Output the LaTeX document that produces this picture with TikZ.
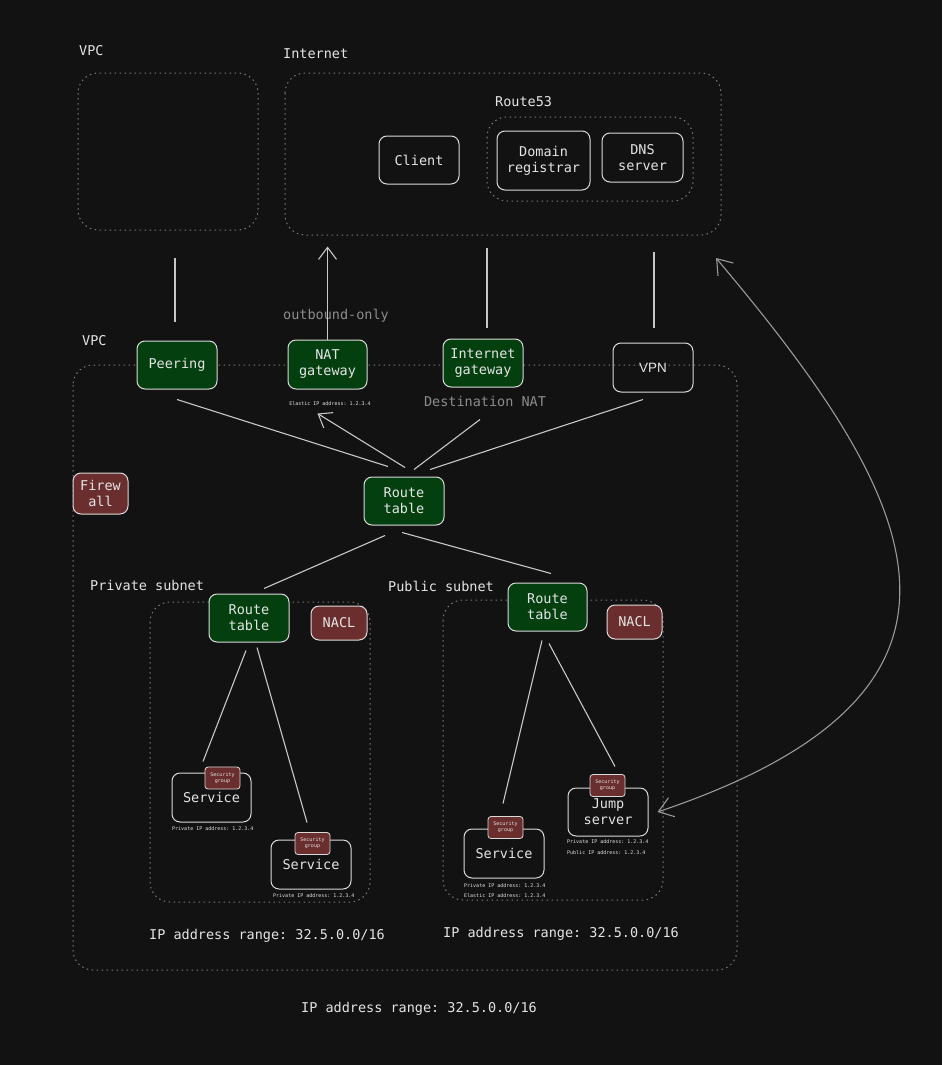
\documentclass[tikz,border=0pt]{standalone}
\usepackage{fontspec}
\setmonofont{DejaVu Sans Mono}
\setsansfont{Liberation Sans}
\usetikzlibrary{arrows.meta}
\definecolor{bg}{HTML}{121212}
\definecolor{strokec}{HTML}{DADADA}
\definecolor{txt}{HTML}{E4E4E4}
\definecolor{graytxt}{HTML}{8C8C8C}
\definecolor{zonec}{HTML}{7A7A7A}
\definecolor{gfill}{HTML}{04400F}
\definecolor{rfill}{HTML}{6B2E2E}
\definecolor{linec}{HTML}{C8C8C8}
\definecolor{curvec}{HTML}{9A9A9A}
\begin{document}
\begin{tikzpicture}[x=1pt,y=-1pt,
  box/.style={draw=strokec, line width=1pt, rounded corners=8pt, text=txt, align=center, inner sep=0pt,
    font=\ttfamily\fontsize{13.5}{16}\selectfont},
  greenbox/.style={box, fill=gfill},
  redbox/.style={box, fill=rfill},
  sgbox/.style={draw=strokec, fill=rfill, line width=0.8pt, rounded corners=3pt, text=txt, align=center, inner sep=0pt,
    minimum width=35pt, minimum height=22pt, font=\ttfamily\fontsize{5}{6}\selectfont},
  zone/.style={draw=zonec, line width=1pt, dash pattern=on 1.5pt off 3.5pt, rounded corners=20pt},
  lbl/.style={anchor=west, text=txt, inner sep=0pt, font=\ttfamily\fontsize{13.5}{16}\selectfont},
  glbl/.style={text=graytxt, inner sep=0pt, font=\ttfamily\fontsize{13.5}{16}\selectfont},
  tiny/.style={anchor=west, text=txt, inner sep=0pt, font=\ttfamily\fontsize{5}{6}\selectfont},
  conn/.style={draw=linec, line width=1.1pt},
  arr/.style={conn, -{Straight Barb[length=12pt,width=18pt]}},
  curvearr/.style={draw=curvec, line width=1.1pt, {Straight Barb[length=14pt,width=20pt]}-{Straight Barb[length=14pt,width=20pt]}}
]
\useasboundingbox (0,0) rectangle (942,1065);
\fill[bg] (0,0) rectangle (942,1065);

% zones
\draw[zone] (78,73) rectangle (258,230);
\draw[zone] (285,73) rectangle (721,235);
\draw[zone] (487,117) rectangle (693,201);
\draw[zone] (73,365) rectangle (737,970);
\draw[zone] (150,602) rectangle (370,902);
\draw[zone] (443,600) rectangle (663,900);

% labels
\node[lbl] (lvpc0) at (79,51) {VPC};
\node[lbl] (linet) at (283,54) {Internet};
\node[lbl] (lr53) at (495,102) {Route53};
\node[lbl] (lvpc) at (82,341) {VPC};
\node[lbl] (lpriv) at (90,585) {Private subnet};
\node[lbl] (lpub) at (388,586) {Public subnet};
\node[glbl] (lout) at (336,316) {outbound-only};
\node[glbl] (ldnat) at (485,401) {Destination NAT};
\node[lbl, anchor=center] (ip1) at (267,936) {IP address range: 32.5.0.0/16};
\node[lbl, anchor=center] (ip2) at (561,934) {IP address range: 32.5.0.0/16};
\node[lbl, anchor=center] (ip3) at (419,1009) {IP address range: 32.5.0.0/16};

% nodes
\node[box, minimum width=80pt, minimum height=48pt] (client) at (419,160) {Client};
\node[box, minimum width=93pt, minimum height=59pt] (domreg) at (543.5,160.5) {Domain\\registrar};
\node[box, minimum width=81pt, minimum height=49pt] (dns) at (642.5,157.5) {DNS\\server};

\node[greenbox, minimum width=80pt, minimum height=48pt] (peer) at (177,365) {Peering};
\node[greenbox, minimum width=79pt, minimum height=49pt] (nat) at (327.5,364.5) {NAT\\gateway};
\node[greenbox, minimum width=80pt, minimum height=48pt] (igw) at (483,363) {Internet\\gateway};
\node[box, minimum width=80pt, minimum height=49pt, font=\sffamily\fontsize{13.5}{16}\selectfont] (vpn) at (653,367.5) {VPN};
\node[tiny, anchor=center] (natip) at (330,404) {Elastic IP address: 1.2.3.4};

\node[greenbox, minimum width=80pt, minimum height=48pt] (rt) at (404,501) {Route\\table};
\node[redbox, minimum width=55pt, minimum height=41pt] (fw) at (100.5,493.5) {Firew\\all};

\node[greenbox, minimum width=80pt, minimum height=48pt] (prt) at (249,618) {Route\\table};
\node[redbox, minimum width=56pt, minimum height=34pt] (pnacl) at (339,623) {NACL};
\node[greenbox, minimum width=79pt, minimum height=48pt] (urt) at (547.5,607) {Route\\table};
\node[redbox, minimum width=55pt, minimum height=34pt] (unacl) at (634.5,622) {NACL};

\node[box, minimum width=79pt, minimum height=49pt] (svc1) at (211.5,797.5) {Service};
\node[sgbox] (sg1) at (222.5,778) {Security\\group};
\node[tiny] (svc1ip) at (172,829) {Private IP address: 1.2.3.4};

\node[box, minimum width=80pt, minimum height=49pt] (svc2) at (311,864.5) {Service};
\node[sgbox] (sg2) at (312.5,843.5) {Security\\group};
\node[tiny] (svc2ip) at (273,896) {Private IP address: 1.2.3.4};

\node[box, minimum width=80pt, minimum height=49pt] (svc3) at (504,853.5) {Service};
\node[sgbox] (sg3) at (505.5,827.5) {Security\\group};
\node[tiny] (svc3ip) at (464,886) {Private IP address: 1.2.3.4};
\node[tiny] (svc3eip) at (464,896) {Elastic IP address: 1.2.3.4};

\node[box, minimum width=80pt, minimum height=48pt] (jump) at (608,812) {Jump\\server};
\node[sgbox] (sg4) at (607.5,785.5) {Security\\group};
\node[tiny] (jumpip) at (567,842) {Private IP address: 1.2.3.4};
\node[tiny] (jumppip) at (567,853) {Public IP address: 1.2.3.4};

% vertical links to the top zones
\draw[conn] ([xshift=-2pt,yshift=19pt]peer.north) -- ++(0,-64);
\draw[arr] (nat.north) -- ++(0,-93);
\draw[conn] ([xshift=4pt,yshift=11pt]igw.north) -- ++(0,-80);
\draw[conn] ([xshift=1pt,yshift=15pt]vpn.north) -- ++(0,-76);

% route table links
\draw[conn] ([xshift=-16pt,yshift=10pt]rt.north) -- ([yshift=-10pt]peer.south);
\draw[arr] ([xshift=1pt,yshift=9pt]rt.north) -- ([xshift=-10pt,yshift=-24pt]nat.south);
\draw[conn] ([xshift=10pt,yshift=7pt]rt.north) -- ([xshift=-3pt,yshift=-32pt]igw.south);
\draw[conn] ([xshift=26pt,yshift=7pt]rt.north) -- ([xshift=-10pt,yshift=-7pt]vpn.south);

\draw[conn] ([xshift=-19pt,yshift=-10pt]rt.south) -- ([xshift=15pt,yshift=5pt]prt.north);
\draw[conn] ([xshift=-2pt,yshift=-7pt]rt.south) -- ([xshift=3.5pt,yshift=9pt]urt.north);

% subnet links
\draw[conn] ([xshift=-3pt,yshift=-8pt]prt.south) -- ([xshift=-8.5pt,yshift=11pt]svc1.north);
\draw[conn] ([xshift=8pt,yshift=-5pt]prt.south) -- ([xshift=-4pt,yshift=17pt]svc2.north);
\draw[conn] ([xshift=-5.5pt,yshift=-9pt]urt.south) -- ([xshift=-1pt,yshift=25pt]svc3.north);
\draw[conn] ([xshift=1.5pt,yshift=-12pt]urt.south) -- ([xshift=7pt,yshift=21pt]jump.north);

% jump server to internet curve
\coordinate (inetTip) at (716,258);
\draw[curvearr] ([xshift=9pt]jump.east) .. controls (1020,690) and (920,500) .. (inetTip);
\end{tikzpicture}
\end{document}
